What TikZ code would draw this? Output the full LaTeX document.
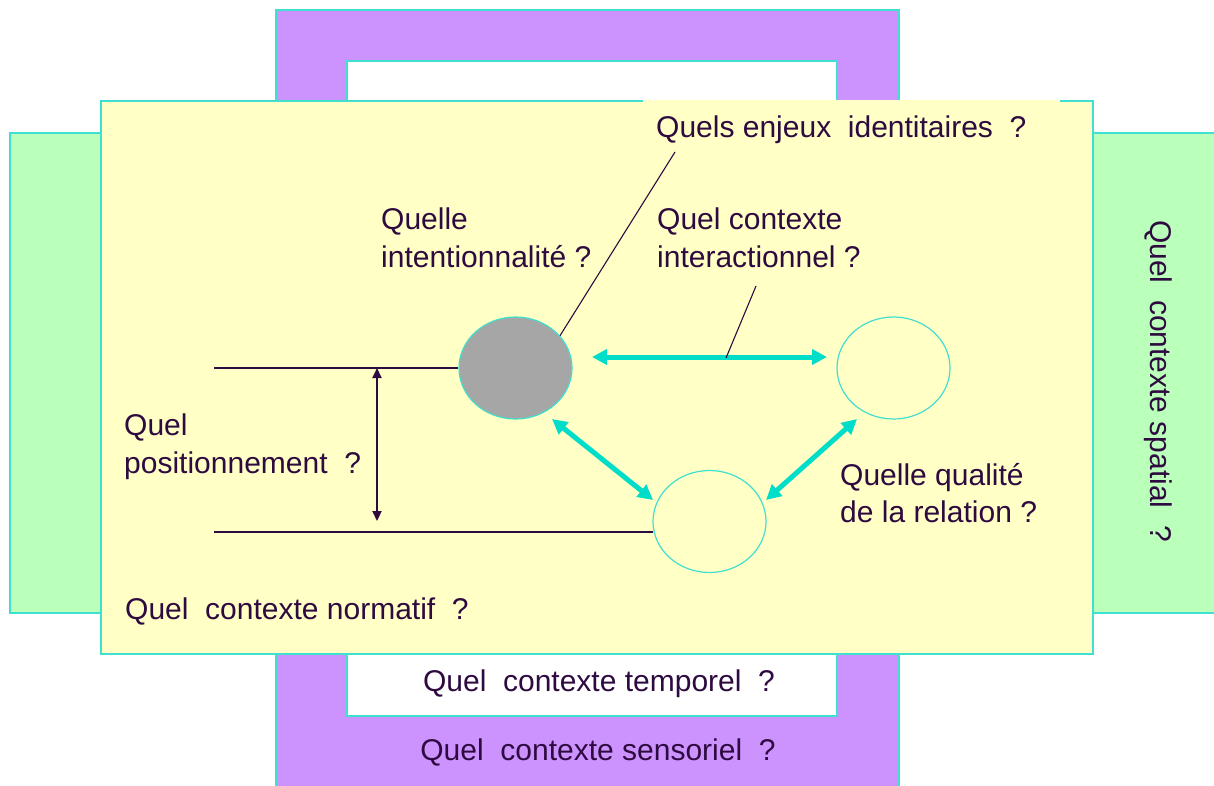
\documentclass[tikz,border=0pt]{standalone}
\usepackage{fontspec}
\setmainfont{Liberation Sans}
\usetikzlibrary{arrows.meta,shapes.geometric}
\definecolor{purp}{HTML}{CC93FF}
\definecolor{yel}{HTML}{FFFFC6}
\definecolor{grn}{HTML}{BAFFBA}
\definecolor{bord}{HTML}{40E0D0}
\definecolor{arr}{HTML}{00DDC8}
\definecolor{txt}{HTML}{2E0A40}
\definecolor{gry}{HTML}{A6A6A6}
\begin{document}
\begin{tikzpicture}[x=1pt,y=-1pt,
  panel/.style={draw=bord,line width=1.5pt},
  lbl/.style={inner sep=0pt,text=txt,font=\fontsize{30pt}{38pt}\selectfont,align=left},
  circ/.style={ellipse,draw=bord,line width=1.2pt,minimum width=113pt,minimum height=102pt,inner sep=0pt},
  relarrow/.style={draw=arr,line width=5pt,{Triangle[length=15pt,width=15pt]}-{Triangle[length=15pt,width=15pt]}},
  thinline/.style={draw=txt,line width=1.1pt},
  posarrow/.style={draw=txt,line width=2.2pt,{Triangle[length=10pt,width=9pt]}-{Triangle[length=10pt,width=9pt]}}]
\useasboundingbox (0,0) rectangle (1214,785);
\clip (0,0) rectangle (1214,785);
% frames
\path[panel,fill=purp] (276,10) rectangle (899,795);
\path[panel,fill=white] (347,61) rectangle (837,716);
\path[panel,fill=grn] (10,133) rectangle (1225,613);
\path[panel,fill=yel] (101,101) rectangle (1093,654);
\fill[yel] (643,99.5) rectangle (1060,106);
% ellipses
\node[circ,fill=gry] (g) at (515.5,368) {};
\node[circ,fill=yel] (r) at (893.5,368) {};
\node[circ,fill=yel] (b) at (709.5,521.5) {};
% coordinates
\coordinate (hA) at (592,357);
\coordinate (hB) at (827,357);
\coordinate (d1a) at (552,419);
\coordinate (d1b) at (653,500);
\coordinate (d2a) at (857,419);
\coordinate (d2b) at (766,500);
\coordinate (upL) at (214,368);
\coordinate (lowL) at (214,532);
\coordinate (vA) at (377,368);
\coordinate (vB) at (377,521);
\coordinate (idEnd) at (675,152);
\coordinate (inTop) at (756,286);
\coordinate (inBot) at (726,358);
% arrows
\draw[relarrow] (hA) -- (hB);
\draw[relarrow] (d1a) -- (d1b);
\draw[relarrow] (d2a) -- (d2b);
% lines
\draw[thinline] (upL) -- (g.west);
\draw[thinline] (lowL) -- (lowL -| b.190);
\draw[posarrow] (vA) -- (vB);
\draw[thinline] (g.36) -- (idEnd);
\draw[thinline] (inTop) -- (inBot);
% labels
\node[lbl,anchor=base west] (tId) at (656,137) {Quels enjeux~ identitaires~ ?};
\node[lbl,anchor=base west] (tInt1) at (381,229) {Quelle};
\node[lbl,anchor=base west] (tInt2) at (381,267) {intentionnalité ?};
\node[lbl,anchor=base west] (tIa1) at (657,229) {Quel contexte};
\node[lbl,anchor=base west] (tIa2) at (657,267) {interactionnel ?};
\node[lbl,anchor=base west] (tPos1) at (124,435) {Quel};
\node[lbl,anchor=base west] (tPos2) at (124,473) {positionnement~ ?};
\node[lbl,anchor=base west] (tQ1) at (840,485) {Quelle qualité};
\node[lbl,anchor=base west] (tQ2) at (840,522) {de la relation ?};
\node[lbl,anchor=base west] (tNorm) at (125,619) {Quel~ contexte normatif~ ?};
\node[lbl,anchor=base] (tTemp) at (599,691) {Quel~ contexte temporel~ ?};
\node[lbl,anchor=base] (tSens) at (598,760) {Quel~ contexte sensoriel~ ?};
\node[lbl,anchor=base west,rotate=-90] (tSpat) at (1150,220) {Quel~ contexte spatial~ ?};
\end{tikzpicture}
\end{document}
